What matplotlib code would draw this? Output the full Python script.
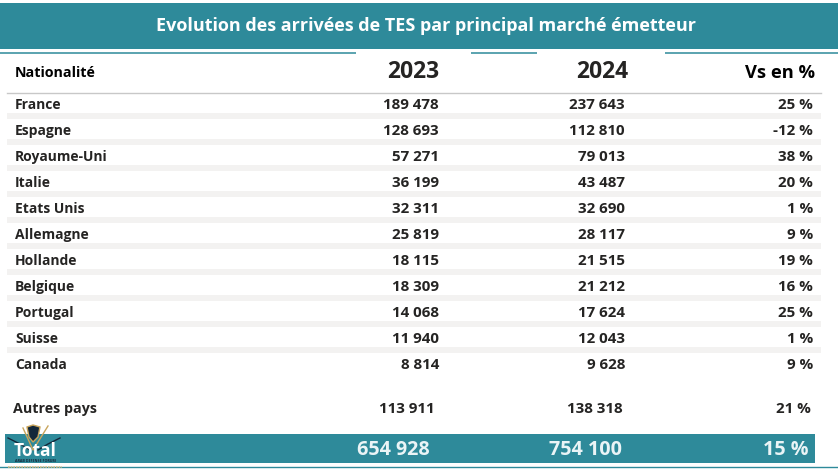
#!/usr/bin/env python3
"""Table of TES arrivals by main source market, 2023 vs 2024."""
import matplotlib
matplotlib.use('Agg')
import matplotlib.pyplot as plt
from matplotlib.patches import Polygon, Rectangle

plt.rcParams['font.family'] = ['Open Sans', 'DejaVu Sans']

TEAL = '#2E8A9A'
DARK = '#252423'

title = 'Evolution des arrivées de TES par principal marché émetteur'
headers = ['Nationalité', '2023', '2024', 'Vs en %']
countries = ['France', 'Espagne', 'Royaume-Uni', 'Italie', 'Etats Unis', 'Allemagne',
             'Hollande', 'Belgique', 'Portugal', 'Suisse', 'Canada']
values_2023 = ['189 478', '128 693', '57 271', '36 199', '32 311', '25 819',
               '18 115', '18 309', '14 068', '11 940', '8 814']
values_2024 = ['237 643', '112 810', '79 013', '43 487', '32 690', '28 117',
               '21 515', '21 212', '17 624', '12 043', '9 628']
changes = ['25 %', '-12 %', '38 %', '20 %', '1 %', '9 %', '19 %', '16 %', '25 %', '1 %', '9 %']
other = ['Autres pays', '113 911', '138 318', '21 %']
total = ['Total', '654 928', '754 100', '15 %']

W, H = 838, 471
fig = plt.figure(figsize=(W / 100, H / 100), dpi=100)
ax = fig.add_axes([0, 0, 1, 1])
ax.set_xlim(0, W)
ax.set_ylim(H, 0)
ax.axis('off')

# banner
ax.add_patch(Rectangle((0, 3), W, 46, color=TEAL, lw=0))
ax.text(426, 26, title, color='white', fontsize=13, fontweight='bold', ha='center', va='center')
for x0, x1 in [(0, 356), (471, 537), (665, 838)]:
    ax.plot([x0, x1], [52.5, 52.5], color=TEAL, lw=1.1, solid_capstyle='butt')

# header row
ax.text(15, 73, headers[0], color='black', fontsize=10.3, fontweight='bold', ha='left', va='center')
ax.text(439, 71.5, headers[1], color=DARK, fontsize=16.5, fontweight='bold', ha='right', va='center')
ax.text(628, 71.5, headers[2], color=DARK, fontsize=16.5, fontweight='bold', ha='right', va='center')
ax.text(815, 73, headers[3], color='black', fontsize=13.2, fontweight='bold', ha='right', va='center')
ax.plot([7, 821], [92.5, 92.5], color='#C8C8C8', lw=1.0)

# rows
for i, (c, a, b, p) in enumerate(zip(countries, values_2023, values_2024, changes)):
    y = 105 + 26 * i
    if i < len(countries) - 1:
        ax.add_patch(Rectangle((7, y + 8), 814, 6, color='#F3F2F1', lw=0))
    ax.text(15, y, c, color=DARK, fontsize=10, fontweight='bold', ha='left', va='center')
    ax.text(439, y, a, color=DARK, fontsize=10.9, fontweight='bold', ha='right', va='center')
    ax.text(625, y, b, color=DARK, fontsize=10.9, fontweight='bold', ha='right', va='center')
    ax.text(813, y, p, color=DARK, fontsize=10.9, fontweight='bold', ha='right', va='center')

# other countries
ax.text(13, 409, other[0], color=DARK, fontsize=10.3, fontweight='bold', ha='left', va='center')
ax.text(435, 409, other[1], color=DARK, fontsize=10.9, fontweight='bold', ha='right', va='center')
ax.text(623, 409, other[2], color=DARK, fontsize=10.9, fontweight='bold', ha='right', va='center')
ax.text(811, 409, other[3], color=DARK, fontsize=10.9, fontweight='bold', ha='right', va='center')

# total bar
ax.add_patch(Rectangle((5, 434), 810, 29, color=TEAL, lw=0))
ax.plot([0, W], [466.5, 466.5], color=TEAL, lw=1.0)
ax.text(14, 451, total[0], color='white', fontsize=12.5, fontweight='bold', ha='left', va='center')
ax.text(430, 450, total[1], color='#EAF4F6', fontsize=14.2, fontweight='bold', ha='right', va='center')
ax.text(622, 450, total[2], color='#EAF4F6', fontsize=14.2, fontweight='bold', ha='right', va='center')
ax.text(808, 450, total[3], color='#EAF4F6', fontsize=14.2, fontweight='bold', ha='right', va='center')

# watermark logo over the total label
ax.add_patch(Polygon([[27, 427], [33, 425], [40, 427], [38, 437], [33, 442], [29, 437]],
                     closed=True, facecolor='#14283A', edgecolor='#C9A55C', lw=1.0))
ax.plot([23, 33, 48], [428, 450, 426], color='#C9A55C', lw=1.0)
ax.plot([8, 20, 30], [438, 444, 450], color='#14283A', lw=1.0)
ax.plot([60, 48, 38], [438, 444, 450], color='#14283A', lw=1.0)
ax.text(35, 460.5, 'ARAB DEFENSE FORUM', color='#14283A', fontsize=2.6, fontweight='bold', ha='center', va='center')
ax.plot([8, 62], [466.5, 466.5], color='#D8BE86', lw=1.2, ls=(0, (1, 0.6)))

fig.savefig('out.png', dpi=100)
plt.close(fig)
